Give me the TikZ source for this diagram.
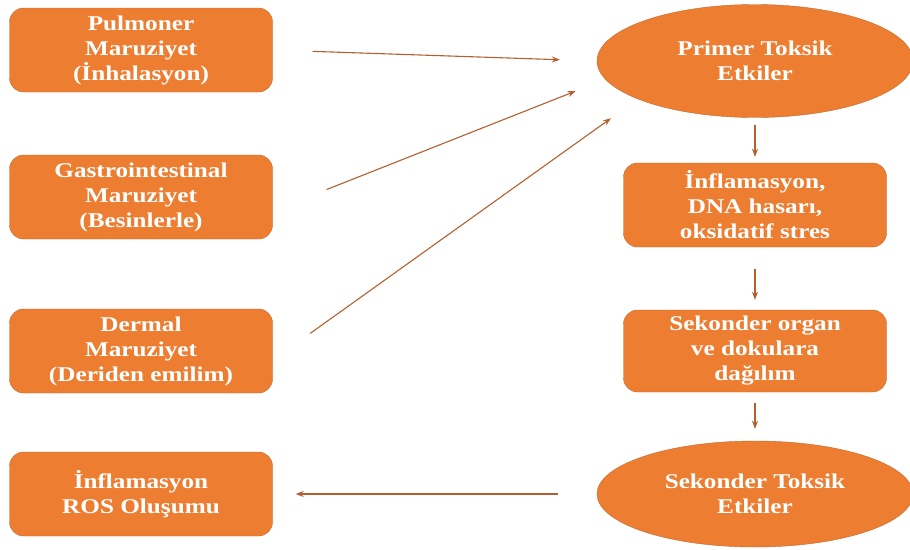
\documentclass[tikz,border=0pt]{standalone}
\usepackage{fontspec}
\setmainfont{Liberation Serif}[FakeStretch=1.2]
\definecolor{myorange}{RGB}{237,125,49}
\definecolor{myedge}{RGB}{196,104,44}
\definecolor{myarrow}{RGB}{180,95,45}
\usetikzlibrary{arrows.meta, positioning, shapes.geometric}
\tikzset{
    route/.style={
           rectangle,
           rounded corners=14pt,
           fill=myorange,
           draw=myedge, thin,
           minimum width=263pt,
           minimum height=84pt,
           inner sep=2pt,
           text=white,
           align=center,
           font=\fontsize{21}{25}\selectfont\bfseries,
           },
    effect/.style={
           route,
           ellipse,
           minimum width=316pt,
           inner sep=0pt,
           },
    flow/.style={->, draw=myarrow, line width=1.1pt},
}
\newcommand{\exposure}[2]{#1\\Maruziyet\\(#2)}

\begin{document}
\begin{tikzpicture}[x=1pt, y=-1pt, >={Stealth[length=8pt,width=6pt]}]
      \useasboundingbox (0,0) rectangle (910,549);
      % exposure routes
      \node[route] (P) at (141,  50) {\exposure{Pulmoner}{İnhalasyon}};
      \node[route] (G) at (141, 197) {\exposure{Gastrointestinal}{Besinlerle}};
      \node[route] (D) at (141, 351) {\exposure{Dermal}{Deriden emilim}};
      \node[route] (R) at (141, 494) {İnflamasyon\\ROS Oluşumu};
      % effects chain
      \node[effect, minimum height=113pt] (prim) at (755,  61) {Primer Toksik\\Etkiler};
      \node[route]                        (I)    at (755, 205) {İnflamasyon,\\DNA hasarı,\\oksidatif stres};
      \node[route, minimum height=82pt]   (S)    at (755, 351) {Sekonder organ\\ve dokulara\\dağılım};
      \node[effect, minimum height=106pt] (sek)  at (755, 494) {Sekonder Toksik\\Etkiler};
      \draw[flow, shorten <=40pt, shorten >=37pt] (P.east)  -- (prim.west);
      \draw[flow, shorten <=58pt, shorten >=32pt] (G.-6)    -- (prim.187);
      \draw[flow, shorten <=46pt, shorten >=33pt] (D.-4)    -- (prim.198);
      \draw[flow, shorten <=7pt,  shorten >=6pt]  (prim.south) -- (I.north);
      \draw[flow, shorten <=22pt, shorten >=10pt] (I.south) -- (S.north);
      \draw[flow, shorten <=11pt, shorten >=12pt] (S.south) -- (sek.north);
      \draw[flow, shorten <=39pt, shorten >=23pt] (sek.west) -- (R.east);
    \end{tikzpicture}
\end{document}
